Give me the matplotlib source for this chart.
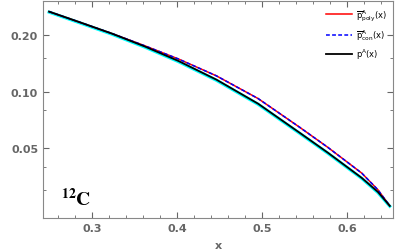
# Log-scale curves for 12C, p^A(x) vs the two approximations
import matplotlib
matplotlib.use("Agg")
import matplotlib.pyplot as plt
from matplotlib.ticker import FixedLocator, NullFormatter

# values
x_vals = [0.249, 0.283, 0.323, 0.362, 0.401, 0.446, 0.495, 0.544, 0.577, 0.617, 0.636, 0.65]
p_exact = [0.2654, 0.2349, 0.2029, 0.1732, 0.1455, 0.1157, 0.0863, 0.0605, 0.0475, 0.0349, 0.0294, 0.0248]
p_poly = [0.2654, 0.2349, 0.2032, 0.1747, 0.1491, 0.1212, 0.0919, 0.0647, 0.0507, 0.0370, 0.0302, 0.0248]
p_con = [0.2654, 0.2349, 0.2032, 0.1747, 0.1491, 0.1212, 0.0919, 0.0647, 0.0507, 0.0370, 0.0302, 0.0248]
p_fit = [0.2638, 0.2333, 0.2015, 0.1719, 0.1444, 0.1148, 0.0857, 0.0601, 0.0472, 0.0347, 0.0292, 0.0247]

y_ticks = [0.05, 0.10, 0.20]
y_tick_labels = ["0.05", "0.10", "0.20"]
y_minor = [0.03, 0.04, 0.08, 0.15]
x_ticks = [0.3, 0.4, 0.5, 0.6]

gray = "#666666"

fig = plt.figure(figsize=(3.99, 2.53), dpi=100)
ax = fig.add_axes([0.1078, 0.1344, 0.8772, 0.8596])

ax.plot(x_vals, p_fit, color="cyan", lw=2.3, zorder=2)
ax.plot(x_vals, p_poly, color="red", lw=1.1, zorder=3,
        label=r"$\overline{\rm p}^{\rm A}_{\rm poly}{\rm (x)}$")
ax.plot(x_vals, p_con, color="blue", lw=1.1, ls=(0, (2.5, 1.5)), zorder=4,
        label=r"$\overline{\rm p}^{\rm A}_{\rm con}{\rm (x)}$")
ax.plot(x_vals, p_exact, color="black", lw=1.3, zorder=5,
        label=r"${\rm p}^{\rm A}{\rm (x)}$")

ax.set_yscale("log")
ax.set_xlim(0.2418, 0.6538)
ax.set_ylim(0.0214, 0.304)

ax.yaxis.set_major_locator(FixedLocator(y_ticks))
ax.set_yticklabels(y_tick_labels)
ax.yaxis.set_minor_locator(FixedLocator(y_minor))
ax.yaxis.set_minor_formatter(NullFormatter())
ax.set_xticks(x_ticks)
ax.set_xticklabels([str(v) for v in x_ticks])
ax.set_xticks([0.26, 0.28, 0.32, 0.34, 0.36, 0.38, 0.42, 0.44, 0.46, 0.48,
               0.52, 0.54, 0.56, 0.58, 0.62, 0.64], minor=True)

ax.tick_params(which="both", direction="in", top=True, right=True,
               colors=gray, labelsize=8)
ax.tick_params(which="major", length=4)
ax.tick_params(which="minor", length=2)
for lab in ax.get_xticklabels() + ax.get_yticklabels():
    lab.set_fontweight("bold")
    lab.set_color(gray)
for sp in ax.spines.values():
    sp.set_color("#888888")

ax.set_xlabel("x", fontsize=8, fontweight="bold", color=gray, labelpad=5)

ax.text(0.2806, 0.0252, r"$^{\mathbf{12}}\mathbf{C}$", fontsize=14,
        math_fontfamily="stix", ha="center")

leg = ax.legend(loc="upper right", frameon=False, fontsize=6,
                handlelength=3.2, handletextpad=0.4, labelspacing=0.55,
                borderaxespad=0.4)

fig.savefig("out.png", dpi=100)
